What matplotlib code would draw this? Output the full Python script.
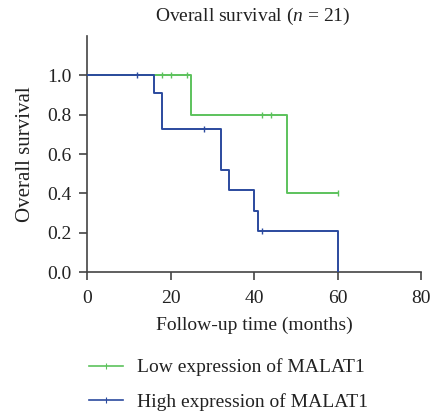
import matplotlib
matplotlib.use("Agg")
import matplotlib.pyplot as plt
from matplotlib.lines import Line2D

# ── Kaplan-Meier steps ─────────────────────────────────────────────────────
low_times = [0, 25, 48, 60]
low_surv = [1.0, 0.8, 0.4, 0.4]
low_censor_t = [18, 20, 24, 42, 44, 60]
low_censor_s = [1.0, 1.0, 1.0, 0.8, 0.8, 0.4]

high_times = [0, 16, 18, 32, 34, 40, 41, 60]
high_surv = [1.0, 0.909, 0.727, 0.519, 0.415, 0.311, 0.207, 0.0]
high_censor_t = [12, 28, 42]
high_censor_s = [1.0, 0.727, 0.207]

x_ticks = [0, 20, 40, 60, 80]
y_ticks = [0.0, 0.2, 0.4, 0.6, 0.8, 1.0]

green = "#5cc25c"
blue = "#2b4a9e"
axis_col = "#444444"
txt = "#222222"
fs = 14

plt.rcParams["font.family"] = ["Liberation Serif", "DejaVu Serif"]
plt.rcParams["mathtext.fontset"] = "custom"
plt.rcParams["mathtext.rm"] = "Liberation Serif"
plt.rcParams["mathtext.it"] = "Liberation Serif:italic"

fig = plt.figure(figsize=(4.31, 4.15), dpi=100)
ax = fig.add_axes([87 / 431, 1 - 272 / 415, 334 / 431, 236 / 415])

ax.step(low_times, low_surv, where="post", color=green, lw=1.4, zorder=3)
ax.step(high_times, high_surv, where="post", color=blue, lw=1.4, zorder=3)
ax.plot(low_censor_t, low_censor_s, ls="none", marker="|", ms=5, mew=1.0,
        color=green, zorder=4)
ax.plot(high_censor_t, high_censor_s, ls="none", marker="|", ms=5, mew=1.0,
        color=blue, zorder=4)

ax.set_xlim(0, 80)
ax.set_ylim(0, 1.2)
ax.set_xticks(x_ticks)
ax.set_xticklabels([str(t) for t in x_ticks])
ax.set_yticks(y_ticks)
ax.set_yticklabels([f"{t:.1f}" for t in y_ticks])
for s in ["top", "right"]:
    ax.spines[s].set_visible(False)
for s in ["left", "bottom"]:
    ax.spines[s].set_color(axis_col)
    ax.spines[s].set_linewidth(1.2)
ax.tick_params(direction="out", length=6, width=1.2, color=axis_col,
               labelsize=fs, labelcolor=txt)
ax.tick_params(axis="x", pad=7)
ax.tick_params(axis="y", pad=5)

ax.set_xlabel("Follow-up time (months)", fontsize=fs, color=txt, labelpad=7)
ax.set_ylabel("Overall survival", fontsize=15, color=txt, labelpad=9)
fig.text(253 / 431, 1 - 16 / 415, r"Overall survival ($\mathit{n}$ = 21)",
         fontsize=fs, color=txt, ha="center", va="center")

handles = [
    Line2D([0, 0.5, 1], [0, 0, 0], color=green, lw=1.2, marker="|", ms=4,
           mew=0.8, markevery=[1], label="Low expression of MALAT1"),
    Line2D([0, 0.5, 1], [0, 0, 0], color=blue, lw=1.2, marker="|", ms=4,
           mew=0.8, markevery=[1], label="High expression of MALAT1"),
]
fig.legend(handles=handles, loc="upper left", bbox_to_anchor=(71 / 431, 1 - 341 / 415),
           frameon=False, fontsize=fs, handlelength=1.75, handletextpad=0.72,
           labelspacing=0.85, labelcolor=txt)

fig.savefig("out.png", dpi=100)
